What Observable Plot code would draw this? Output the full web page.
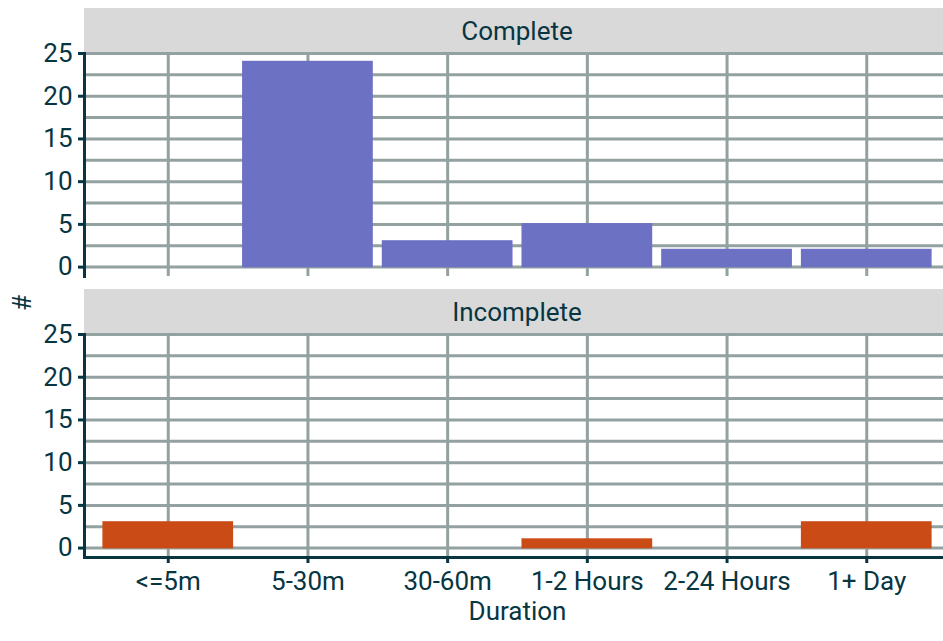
<!DOCTYPE html>
<html>
<head>
<meta charset="utf-8">
<script src="https://cdn.jsdelivr.net/npm/d3@7"></script>
<script src="https://cdn.jsdelivr.net/npm/@observablehq/plot@0.6"></script>
<style>
  html, body { margin: 0; padding: 0; background: #ffffff; }
  body { width: 943px; height: 641px; overflow: hidden; position: relative; font-family: Roboto, sans-serif; }
  .strip { position: absolute; left: 84px; width: 866px; height: 45px; background: #d9d9d9; color: #073642;
           font-size: 26px; display: flex; align-items: center; justify-content: center; }
  .panel { position: absolute; left: 0; width: 950px; }
  .panel svg { max-width: none !important; }
  #ylab { position: absolute; left: 22px; top: 303px; transform: translate(-50%, -50%) rotate(-90deg);
          font-size: 26px; color: #073642; }
</style>
</head>
<body>
<div class="strip" id="s1" style="top:8px"></div>
<div class="strip" id="s2" style="top:289px"></div>
<div class="panel" id="p1" style="top:41px"></div>
<div class="panel" id="p2" style="top:322px"></div>
<div id="ylab">#</div>
<script>
const durations = ["<=5m", "5-30m", "30-60m", "1-2 Hours", "2-24 Hours", "1+ Day"];
const completeCounts = [0, 24, 3, 5, 2, 2];
const incompleteCounts = [3, 0, 0, 1, 0, 3];
const facetNames = ["Complete", "Incomplete"];
const yTicks = [0, 5, 10, 15, 20, 25];
const yGrid = [0, 2.5, 5, 7.5, 10, 12.5, 15, 17.5, 20, 22.5, 25];

const dark = "#073642";
const gridColor = "#93a1a1";
const colors = ["#6c71c4", "#cb4b16"];

function panel(values, color, showX) {
  const data = durations.map((d, i) => ({duration: d, count: values[i]})).filter(d => d.count > 0);
  return Plot.plot({
    width: 950,
    height: showX ? 305 : 240,
    marginLeft: 84,
    marginRight: 0,
    marginTop: 12,
    marginBottom: showX ? 70 : 5,
    style: {background: "transparent", fontFamily: "Roboto, sans-serif", fontSize: "26px", color: dark, overflow: "visible", maxWidth: "none"},
    x: {domain: durations, paddingInner: 0.075, paddingOuter: 0.137, round: false, label: null, axis: null},
    y: {domain: [-1.1, 25], axis: null},
    marks: [
      Plot.gridY(yGrid, {stroke: gridColor, strokeOpacity: 1, strokeWidth: 3}),
      Plot.gridX(durations, {stroke: gridColor, strokeOpacity: 1, strokeWidth: 3}),
      Plot.barY(data, {x: "duration", y: "count", fill: color, stroke: color, strokeWidth: 1.5}),
      Plot.axisY(yTicks, {tickSize: 6, tickPadding: 6, stroke: dark, strokeWidth: 3, fill: dark, fontSize: 26, label: null}),
      Plot.frame({anchor: "left", stroke: dark, strokeWidth: 3}),
      showX ? Plot.axisX({tickSize: 6, tickPadding: 8, stroke: dark, strokeWidth: 3, fill: dark, fontSize: 26,
                          label: "Duration", labelAnchor: "center", labelOffset: 62}) : null,
      showX ? Plot.frame({anchor: "bottom", stroke: dark, strokeWidth: 3}) : null
    ]
  });
}

document.getElementById("s1").textContent = facetNames[0];
document.getElementById("s2").textContent = facetNames[1];
document.getElementById("p1").append(panel(completeCounts, colors[0], false));
document.getElementById("p2").append(panel(incompleteCounts, colors[1], true));
</script>
</body>
</html>
